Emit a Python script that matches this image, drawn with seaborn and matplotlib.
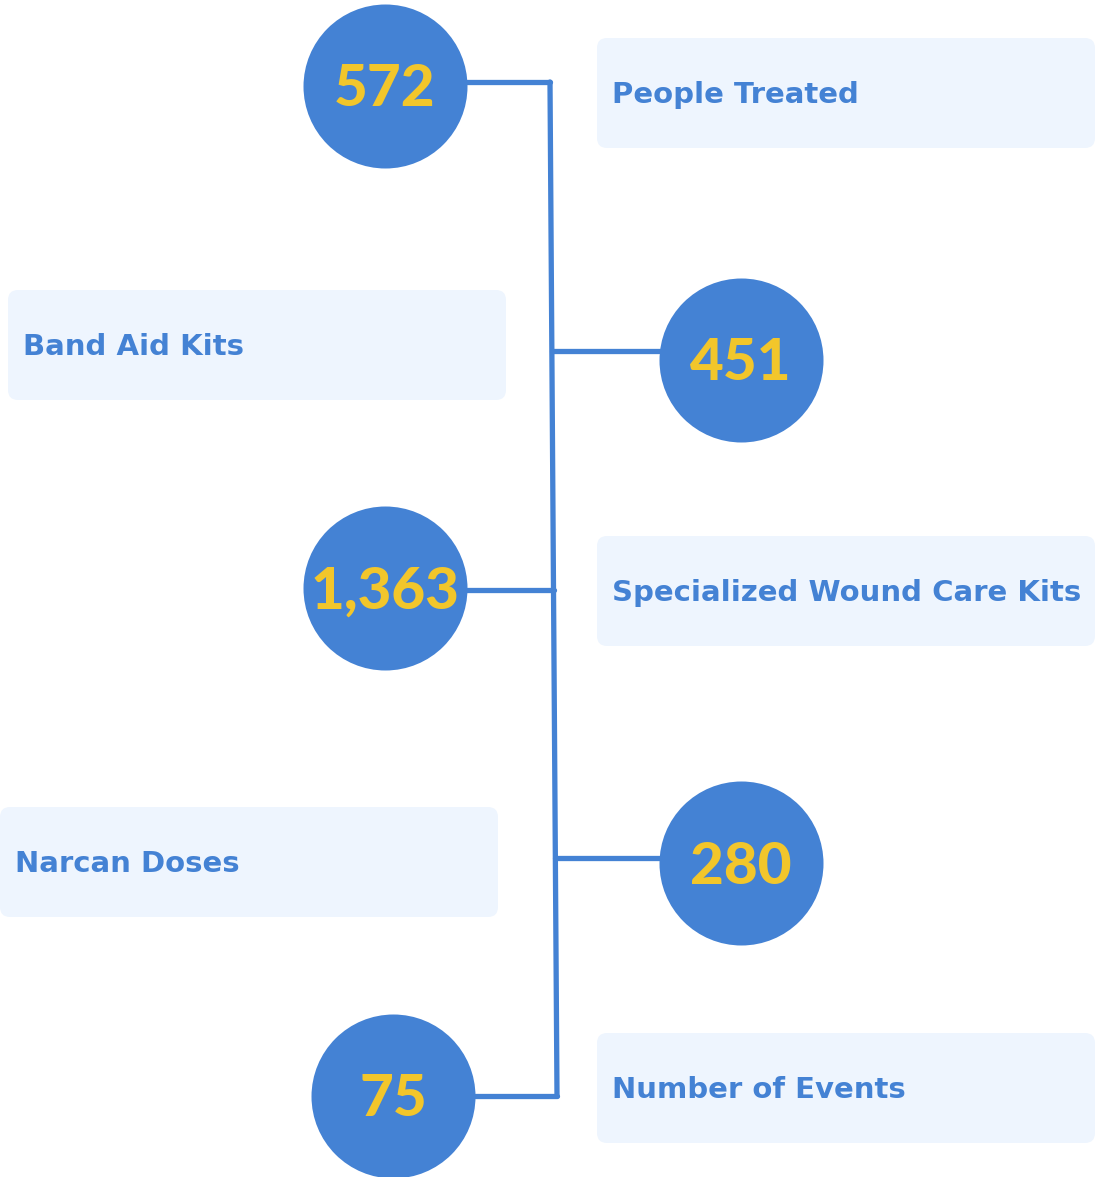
import seaborn as sns
import matplotlib.pyplot as plt
import pandas as pd
from matplotlib.patches import FancyBboxPatch

# Data
labels = ["People Treated", "Band Aid Kits", "Specialized Wound Care Kits",
          "Narcan Doses", "Number of Events"]
values = [572, 451, 1363, 280, 75]

# Layout (pixel space)
circle_x = [385, 741, 385, 741, 393]
circle_y = [86, 360, 588, 863, 1096]
branch_y = [82, 351, 590, 858, 1096]
box_left = [597, 8, 597, 0, 597]
box_top = [38, 290, 536, 807, 1033]
box_w, box_h = 498, 110

blue = "#4482D4"
yellow = "#F2C62B"
box_color = "#EEF5FE"

sns.set_theme(style="white")
plt.rcParams['font.family'] = ['Lato', 'DejaVu Sans']

fig = plt.figure(figsize=(10.95, 11.77), dpi=100)
ax = fig.add_axes([0, 0, 1, 1])

# label boxes
for lab, bx, by in zip(labels, box_left, box_top):
    ax.add_patch(FancyBboxPatch((bx, by), box_w, box_h,
                                boxstyle="round,pad=0,rounding_size=10",
                                fc=box_color, ec="none", zorder=1))
    ax.text(bx + 15, by + box_h / 2 + 2, lab, color=blue, fontsize=21,
            fontweight="bold", family="DejaVu Sans",
            ha="left", va="center", zorder=2)

# connector lines
spine_top, spine_bot = 550, 557
def spine_x(y):
    return spine_top + (spine_bot - spine_top) * (y - branch_y[0]) / (branch_y[-1] - branch_y[0])

ax.plot([spine_top, spine_bot], [branch_y[0], branch_y[-1]], color=blue, lw=3.8,
        solid_capstyle="round", zorder=2)
for cx, by in zip(circle_x, branch_y):
    ax.plot([cx, spine_x(by)], [by, by], color=blue, lw=3.8,
            solid_capstyle="round", zorder=2)

# circles
df = pd.DataFrame({"x": circle_x, "y": circle_y, "value": values})
sns.scatterplot(data=df, x="x", y="y", s=(164 * 72 / 100) ** 2, color=blue,
                linewidth=0, ax=ax, zorder=3, legend=False)
ax.set_xlim(0, 1095)
ax.set_ylim(1177, 0)
ax.axis("off")

for cx, cy, v in zip(circle_x, circle_y, values):
    ax.text(cx, cy + 4, f"{v:,}", color=yellow, fontsize=42, fontweight="black",
            family="Lato", ha="center", va="center", zorder=4)

fig.savefig("out.png", dpi=100, facecolor="white")
